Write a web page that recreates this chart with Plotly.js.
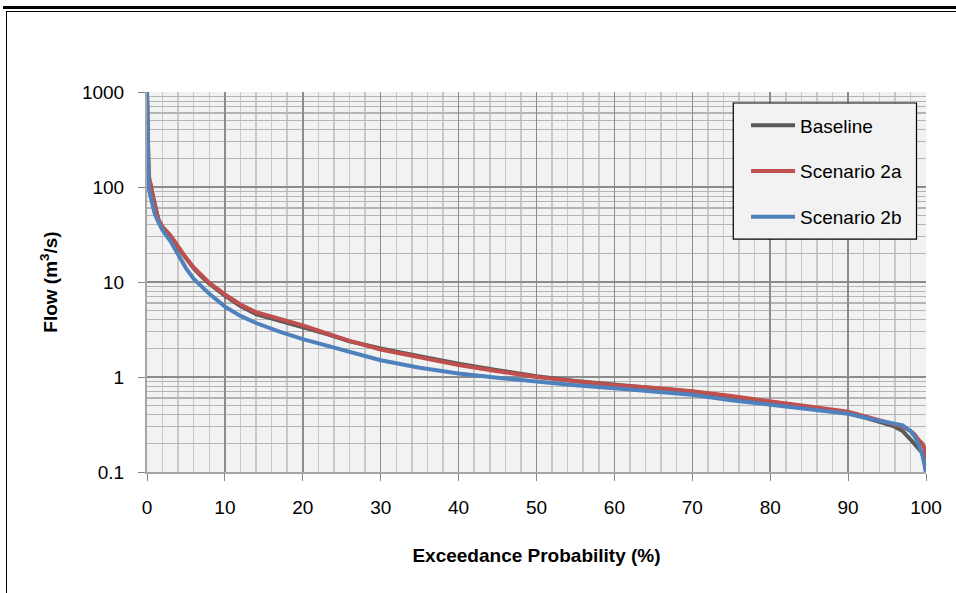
<!DOCTYPE html>
<html>
<head>
<meta charset="utf-8">
<script src="https://cdn.plot.ly/plotly-3.0.1.min.js"></script>
<style>
  html, body { margin: 0; padding: 0; background: #ffffff; }
  #wrap { position: relative; width: 956px; height: 593px; overflow: hidden; }
  #chart { position: absolute; left: 0; top: 0; width: 956px; height: 593px; }
  .rule-thick { position: absolute; left: 3px; top: 6px; width: 953px; height: 3px; background: #000; pointer-events: none; }
  .frame { position: absolute; left: 6px; top: 11px; width: 960px; height: 600px;
           border-top: 1px solid #000; border-left: 1px solid #000; pointer-events: none; }
</style>
</head>
<body>
<div id="wrap">
  <div id="chart"></div>
  <div class="rule-thick"></div>
  <div class="frame"></div>
</div>
<script>
// Exceedance probability (%) sample points of the flow duration curves
const exceedance = [0, 0.05, 0.1, 0.2, 0.3, 0.5, 0.75, 1, 1.5, 2, 3, 4, 5, 6, 7, 8, 10, 12, 14, 17, 20,
  23, 26, 30, 35, 40, 45, 50, 55, 60, 65, 70, 75, 80, 85, 90, 93, 95, 96, 97, 98, 98.5, 99, 99.5, 99.8, 100];

// Flow (m3/s) for each series
const baseline = [1000, 480, 240, 145, 118, 100, 78, 60, 44, 37, 30, 23, 17.6, 13.9, 11.4, 9.6, 7.2,
  5.6, 4.6, 3.95, 3.4, 2.85, 2.38, 2.0, 1.66, 1.38, 1.18, 1.02, 0.91, 0.83, 0.77, 0.70, 0.62, 0.55,
  0.48, 0.42, 0.36, 0.32, 0.30, 0.27, 0.22, 0.20, 0.18, 0.16, 0.13, 0.1];
const scenario2a = [1000, 500, 250, 150, 120, 105, 80, 62, 45, 38, 31, 23.5, 18, 14.2, 11.6, 9.8, 7.4,
  5.8, 4.8, 4.1, 3.5, 2.9, 2.4, 1.95, 1.6, 1.34, 1.15, 1.0, 0.90, 0.82, 0.77, 0.71, 0.63, 0.56,
  0.49, 0.43, 0.37, 0.33, 0.32, 0.30, 0.27, 0.25, 0.22, 0.20, 0.18, 0.1];
const scenario2b = [1000, 400, 200, 110, 90, 75, 62, 52, 42, 35, 27, 19, 14, 10.8, 8.9, 7.5, 5.5,
  4.4, 3.7, 3.0, 2.5, 2.15, 1.85, 1.5, 1.25, 1.09, 0.98, 0.89, 0.82, 0.76, 0.70, 0.65, 0.57, 0.51,
  0.45, 0.41, 0.36, 0.33, 0.32, 0.31, 0.27, 0.24, 0.20, 0.155, 0.12, 0.1];

const seriesNames = ['Baseline', 'Scenario 2a', 'Scenario 2b'];
const seriesColors = ['#595959', '#c0504d', '#4f81bd'];

const yTickVals = [0.1, 1, 10, 100, 1000];
const yTickText = ['0.1', '1', '10', '100', '1000'];
const xTickVals = [0, 10, 20, 30, 40, 50, 60, 70, 80, 90, 100];

const seriesData = [baseline, scenario2a, scenario2b];
const traces = seriesData.map((ys, i) => ({
  type: 'scatter',
  mode: 'lines',
  x: exceedance,
  y: ys,
  name: seriesNames[i],
  legendgroup: 'g' + i,
  line: { color: seriesColors[i], width: 4 },
  hoverinfo: 'skip'
}));

const tickFont = { family: '"Liberation Sans", Arial, sans-serif', size: 19, color: '#000' };
const titleFont = { family: '"Liberation Sans", Arial, sans-serif', size: 19, color: '#000', weight: 'bold' };

const layout = {
  width: 956,
  height: 593,
  margin: { l: 147, r: 30, t: 92, b: 121 },
  paper_bgcolor: '#ffffff',
  plot_bgcolor: '#f2f2f2',
  showlegend: true,
  legend: {
    x: 0.769, xanchor: 'left',
    y: 0.962, yanchor: 'top',
    bgcolor: 'rgba(0,0,0,0)',
    borderwidth: 0,
    traceorder: 'grouped',
    tracegroupgap: 18,
    itemwidth: 44,
    font: { family: '"Liberation Sans", Arial, sans-serif', size: 19, color: '#000' }
  },
  xaxis: {
    range: [0, 100],
    tickvals: xTickVals,
    ticks: 'outside', ticklen: 7, tickcolor: '#868686', tickwidth: 1,
    ticklabelstandoff: 10,
    tickfont: tickFont,
    showline: true, linecolor: '#a6a6a6', linewidth: 2,
    showgrid: true, gridcolor: '#8c8c8c', gridwidth: 1.5,
    zeroline: false,
    minor: { dtick: 2, showgrid: true, gridcolor: '#c8c8c8', gridwidth: 1.5 },
    title: { text: 'Exceedance Probability (%)', font: titleFont, standoff: 32 },
    automargin: false
  },
  yaxis: {
    type: 'log',
    range: [-1, 3],
    tickvals: yTickVals,
    ticktext: yTickText,
    ticks: 'outside', ticklen: 7, tickcolor: '#868686', tickwidth: 1,
    ticklabelstandoff: 10,
    tickfont: tickFont,
    showline: true, linecolor: '#a6a6a6', linewidth: 2,
    showgrid: true, gridcolor: '#8c8c8c', gridwidth: 1.5,
    zeroline: false,
    minor: { dtick: 'D1', showgrid: true, gridcolor: '#b4b4b4', gridwidth: 1.2, ticks: '' },
    title: { text: 'Flow (m<sup>3</sup>/s)', font: titleFont, standoff: 19 },
    automargin: false
  },
  shapes: [{
    type: 'rect', xref: 'paper', yref: 'paper', layer: 'above',
    x0: 0.7526, x1: 0.9878, y0: 0.613, y1: 0.971,
    fillcolor: '#f2f2f2',
    line: { color: '#000', width: 1.2 }
  }]
};

Plotly.newPlot('chart', traces, layout, { staticPlot: true, displayModeBar: false });
</script>
</body>
</html>
